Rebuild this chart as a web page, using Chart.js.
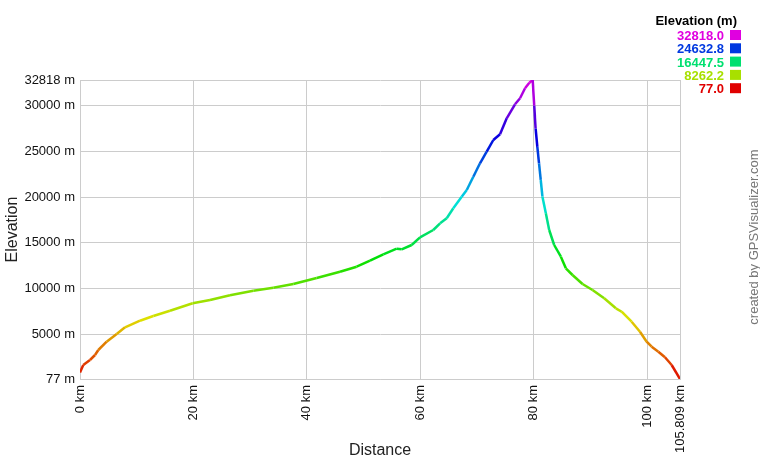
<!DOCTYPE html>
<html>
<head>
<meta charset="utf-8">
<script src="https://cdn.jsdelivr.net/npm/chart.js@4"></script>
<style>
  html, body { margin: 0; padding: 0; background: #fff; }
  #wrap { width: 760px; height: 460px; }
</style>
</head>
<body>
<div id="wrap"><canvas id="chart"></canvas></div>
<script>
// profile (km, m)
const distKm = [0, 0.58, 1.76, 2.65, 3.23, 4.70, 6.47, 7.94, 10.58, 12.93, 15.87, 19.87, 22.93, 26.45, 30.56,
  34.09, 37.62, 41.74, 45.85, 48.79, 51.14, 53.49, 55.85, 56.73, 58.49, 59.96, 62.30, 63.5, 64.67, 65.83,
  67.31, 68.20, 69.36, 70.54, 71.72, 72.89, 74.07, 75.25, 76.71, 77.60, 78.48, 79.24, 79.83,
  80.10, 80.35, 80.65, 80.95, 81.25, 81.55, 82.15, 82.74, 83.62, 84.80, 85.68, 86.85, 88.62, 90.38,
  92.44, 94.50, 95.52, 97.28, 98.75, 99.93, 100.81, 101.99, 103.16, 104.34, 105.809];
const elevM = [800, 1610, 2158, 2705, 3253, 4162, 5005, 5738, 6461, 6976, 7556, 8366, 8728, 9242, 9746,
  10074, 10480, 11137, 11826, 12374, 13031, 13732, 14345, 14280, 14750, 15594, 16393, 17126, 17674, 18770,
  20040, 20773, 22230, 23697, 24966, 26248, 26872, 28624, 30157, 30814, 31909, 32521, 32818,
  30000, 27500, 25500, 23700, 21868, 20040, 18222, 16393, 14750, 13469, 12198, 11465, 10480, 9822,
  8914, 7818, 7446, 6351, 5256, 4162, 3614, 3066, 2453, 1610, 77];

const yTicks = [77, 5000, 10000, 15000, 20000, 25000, 30000, 32818];
const xTicks = [0, 20, 40, 60, 80, 100, 105.809];
const legendValues = [32818.0, 24632.8, 16447.5, 8262.2, 77.0];

const minE = 77, maxE = 32818;
const FONT = '"Liberation Sans", Arial, sans-serif';

function elevColor(v) {
  const f = Math.max(0, Math.min(1, (v - minE) / (maxE - minE)));
  return `hsl(${300 * f}, 100%, 44%)`;
}

const extras = {
  id: 'extras',
  afterDraw(chart) {
    const ctx = chart.ctx;
    ctx.save();
    ctx.font = 'bold 13px ' + FONT;
    ctx.fillStyle = '#000';
    ctx.textAlign = 'right';
    ctx.textBaseline = 'alphabetic';
    ctx.fillText('Elevation (m)', 737, 25);
    legendValues.forEach((v, i) => {
      const base = 40 + i * 13.3;
      ctx.fillStyle = elevColor(v);
      ctx.fillText(v.toFixed(1), 724, base);
      ctx.fillRect(730, base - 10, 11, 10);
    });
    ctx.translate(754, 237);
    ctx.rotate(-Math.PI / 2);
    ctx.textAlign = 'center';
    ctx.textBaseline = 'middle';
    ctx.font = '13px ' + FONT;
    ctx.fillStyle = '#777';
    ctx.fillText('created by GPSVisualizer.com', 0, 0);
    ctx.restore();
  }
};

const pts = distKm.map((d, i) => ({ x: d, y: elevM[i] }));

new Chart(document.getElementById('chart'), {
  type: 'line',
  data: {
    datasets: [{
      data: pts,
      borderWidth: 2.5,
      pointRadius: 0,
      tension: 0,
      segment: {
        borderColor: c => elevColor((c.p0.parsed.y + c.p1.parsed.y) / 2)
      }
    }]
  },
  options: {
    responsive: true,
    maintainAspectRatio: false,
    animation: false,
    layout: { padding: { left: 0, right: 80, top: 80, bottom: 0 } },
    plugins: { legend: { display: false }, tooltip: { enabled: false } },
    scales: {
      x: {
        type: 'linear',
        min: 0,
        max: 105.809,
        afterBuildTicks: s => { s.ticks = xTicks.map(v => ({ value: v })); },
        afterFit: s => { s.height = 81; },
        grid: { color: '#cccccc', drawTicks: false },
        border: { color: '#cccccc' },
        ticks: {
          autoSkip: false,
          minRotation: 90,
          maxRotation: 90,
          padding: 6,
          color: '#111',
          font: { family: FONT, size: 13 },
          callback: v => v + ' km'
        },
        title: { display: true, text: 'Distance', color: '#222', padding: 0, font: { family: FONT, size: 16 } }
      },
      y: {
        min: 77,
        max: 32818,
        afterBuildTicks: s => { s.ticks = yTicks.map(v => ({ value: v })); },
        afterFit: s => { s.width = 80; },
        grid: { color: '#cccccc', drawTicks: false },
        border: { color: '#cccccc' },
        ticks: {
          autoSkip: false,
          padding: 5,
          color: '#111',
          font: { family: FONT, size: 13 },
          callback: v => v + ' m'
        },
        title: { display: true, text: 'Elevation', color: '#222', padding: { top: 3, bottom: 0 }, font: { family: FONT, size: 16 } }
      }
    }
  },
  plugins: [extras]
});
</script>
</body>
</html>
